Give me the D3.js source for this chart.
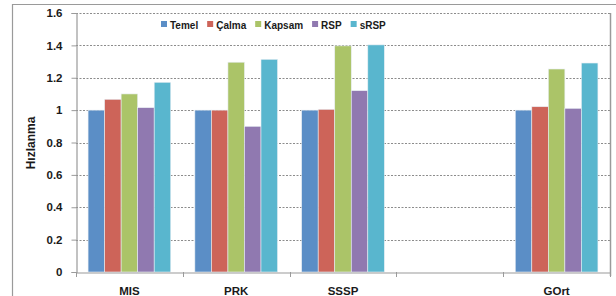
<!DOCTYPE html>
<html><head><meta charset="utf-8">
<script src="https://cdn.jsdelivr.net/npm/d3@7"></script>
<style>body{margin:0;background:#fff}svg{display:block;font-family:"Liberation Sans",Arial,sans-serif}</style>
</head><body><svg id="c" width="616" height="296"></svg>
<script>
const categories = ["MIS", "PRK", "SSSP", "", "GOrt"];
const seriesNames = ["Temel", "Çalma", "Kapsam", "RSP", "sRSP"];
const temel  = [1.0, 1.0, 1.0, null, 1.0];
const calma  = [1.067, 1.0, 1.005, null, 1.021];
const kapsam = [1.10, 1.296, 1.397, null, 1.254];
const rsp    = [1.015, 0.90, 1.12, null, 1.011];
const srsp   = [1.172, 1.314, 1.403, null, 1.291];
const yTicks = [0, 0.2, 0.4, 0.6, 0.8, 1, 1.2, 1.4, 1.6];
const colors = ["#5b8ec6", "#cd6459", "#abc468", "#9079b0", "#59b6ce"];
const seriesValues = [temel, calma, kapsam, rsp, srsp];

const svg = d3.select("#c");
const m = {l: 76, r: 610, t: 13, b: 272};

// outer frame
svg.append("path").attr("d", "M12.5,296 V4.5 H616").attr("fill", "none").attr("stroke", "#9a9a9a").attr("stroke-width", 1.2);

const x = d3.scaleBand().domain(categories).range([m.l, m.r]).paddingInner(0).paddingOuter(0);
const xs = d3.scaleBand().domain(seriesNames).range([0, x.bandwidth()]).paddingInner(0).paddingOuter(0.73);
const y = d3.scaleLinear().domain([0, 1.6]).range([m.b, m.t]);

// gridlines
svg.append("g").selectAll("line").data(yTicks.filter(d => d > 0)).join("line")
  .attr("x1", m.l).attr("x2", m.r).attr("y1", d => Math.round(y(d)) + 0.5).attr("y2", d => Math.round(y(d)) + 0.5)
  .attr("stroke", "#8c8c8c").attr("stroke-width", 1).attr("stroke-dasharray", "2,1.5");

// bars
const data = [];
categories.forEach((c, i) => seriesNames.forEach((s, j) => {
  const v = seriesValues[j][i];
  if (v != null) data.push({c, s, v, color: colors[j]});
}));
svg.append("g").selectAll("rect").data(data).join("rect")
  .attr("x", d => x(d.c) + xs(d.s))
  .attr("width", xs.bandwidth())
  .attr("y", d => y(d.v))
  .attr("height", d => y(0) - y(d.v))
  .attr("fill", d => d.color)
  .attr("stroke", "#e8eef4").attr("stroke-width", 0.6);

// plot frame right
svg.append("line").attr("x1", m.r + 0.5).attr("x2", m.r + 0.5).attr("y1", m.t).attr("y2", m.b + 4).attr("stroke", "#9a9a9a").attr("stroke-width", 1.5);

// y axis
const yAxis = svg.append("g").attr("transform", `translate(${m.l + 0.5},0)`)
  .call(d3.axisLeft(y).tickValues(yTicks).tickFormat(d3.format("")).tickSize(5).tickPadding(9));
yAxis.select(".domain").attr("stroke", "#9a9a9a").attr("stroke-width", 1.2);
yAxis.selectAll(".tick line").attr("stroke", "#9a9a9a");
yAxis.selectAll("text").attr("font-size", 11.5).attr("font-weight", "bold").attr("fill", "#1a1a1a")
  .attr("font-family", "'Liberation Sans', Arial, sans-serif");

// x axis
const xAxis = svg.append("g").attr("transform", `translate(0,${m.b + 0.5})`)
  .call(d3.axisBottom(x).tickSize(0).tickPadding(14));
xAxis.select(".domain").attr("stroke", "#9a9a9a").attr("stroke-width", 1.2);
xAxis.selectAll("text").attr("font-size", 11.5).attr("font-weight", "bold").attr("fill", "#1a1a1a")
  .attr("font-family", "'Liberation Sans', Arial, sans-serif");
// category boundary ticks
const bounds = categories.map(c => x(c)).concat([m.r]);
svg.append("g").selectAll("line").data(bounds).join("line")
  .attr("x1", d => Math.round(d) + 0.5).attr("x2", d => Math.round(d) + 0.5)
  .attr("y1", m.b).attr("y2", m.b + 5).attr("stroke", "#9a9a9a");

// y title
svg.append("text").attr("transform", "translate(35,143) rotate(-90)")
  .attr("text-anchor", "middle").attr("font-size", 12).attr("font-weight", "bold").attr("fill", "#1a1a1a")
  .text("Hızlanma");

// legend
const lg = svg.append("g").attr("transform", "translate(161,25)");
let lx = 0;
seriesNames.forEach((s, j) => {
  const g = lg.append("g").attr("transform", `translate(${lx},0)`);
  g.append("rect").attr("x", 0).attr("y", -4).attr("width", 6).attr("height", 6).attr("fill", colors[j]);
  const t = g.append("text").attr("x", 9).attr("y", 3.5).attr("font-size", 10).attr("font-weight", "bold")
    .attr("fill", "#1a1a1a").text(s);
  lx += 9 + t.node().getComputedTextLength() + 9;
});
</script></body></html>
